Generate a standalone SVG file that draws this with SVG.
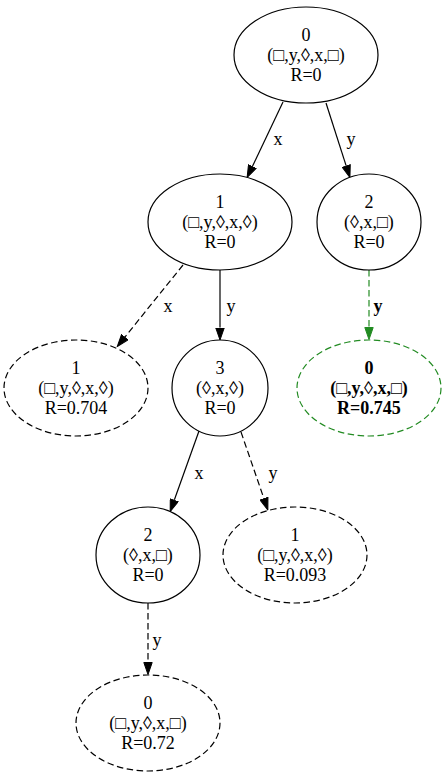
<svg xmlns="http://www.w3.org/2000/svg" width="447" height="782" viewBox="0 0 447 782">
<style>
text{font-family:"Liberation Serif","Times New Roman",serif;font-size:18px;text-anchor:middle;fill:#000}
.n{fill:#fff;stroke:#000;stroke-width:1.2}
.d{stroke-dasharray:6.5,3.5}
.e{fill:none;stroke:#000;stroke-width:1.2}
.g{stroke:#228b22}
.b{font-weight:bold}
</style>
<defs>
<marker id="a" viewBox="0 0 13 9.4" markerWidth="13" markerHeight="9.4" refX="0" refY="4.7" orient="auto" markerUnits="userSpaceOnUse"><path d="M0.5,0.5L12.5,4.7L0.5,8.9z" fill="#000" stroke="#000"/></marker>
<marker id="ag" viewBox="0 0 13 9.4" markerWidth="13" markerHeight="9.4" refX="0" refY="4.7" orient="auto" markerUnits="userSpaceOnUse"><path d="M0.5,0.5L12.5,4.7L0.5,8.9z" fill="#228b22" stroke="#228b22"/></marker>
</defs>
<rect width="447" height="782" fill="#fff"/>
<g id="edges">
<path class="e" d="M283,102L252.5,166.2" marker-end="url(#a)"/>
<text x="278" y="145">x</text>
<path class="e" d="M326,103L346.1,165.6" marker-end="url(#a)"/>
<text x="351" y="145">y</text>
<path class="e d" d="M183,265L125.1,336.8" marker-end="url(#a)"/>
<text x="168" y="312">x</text>
<path class="e" d="M220,270L220,327.5" marker-end="url(#a)"/>
<text x="231" y="312">y</text>
<path class="e d g" d="M369,270L369,327" marker-end="url(#ag)"/>
<text class="b" x="378" y="312">y</text>
<path class="e" d="M199,431L174.4,499.8" marker-end="url(#a)"/>
<text x="199" y="479">x</text>
<path class="e d" d="M241,432L263.8,498.2" marker-end="url(#a)"/>
<text x="273" y="479">y</text>
<path class="e d" d="M148,603L148,662" marker-end="url(#a)"/>
<text x="157" y="646">y</text>
</g>
<g id="n0">
<ellipse class="n" cx="306" cy="55" rx="72" ry="48"/>
<text x="306" y="41">0</text><text x="306" y="61">(□,y,◊,x,□)</text><text x="306" y="81">R=0</text>
</g>
<g id="n1">
<ellipse class="n" cx="220" cy="222" rx="72" ry="48"/>
<text x="220" y="208">1</text><text x="220" y="228">(□,y,◊,x,◊)</text><text x="220" y="248">R=0</text>
</g>
<g id="n2">
<ellipse class="n" cx="369" cy="222" rx="52" ry="48"/>
<text x="369" y="208">2</text><text x="369" y="228">(◊,x,□)</text><text x="369" y="248">R=0</text>
</g>
<g id="n1leaf">
<ellipse class="n d" cx="76" cy="388" rx="72" ry="48"/>
<text x="76" y="374">1</text><text x="76" y="394">(□,y,◊,x,◊)</text><text x="76" y="414">R=0.704</text>
</g>
<g id="n3">
<ellipse class="n" cx="220" cy="388" rx="48" ry="48"/>
<text x="220" y="374">3</text><text x="220" y="394">(◊,x,◊)</text><text x="220" y="414">R=0</text>
</g>
<g id="n0green">
<ellipse class="n d g" cx="369" cy="388" rx="72" ry="48"/>
<text class="b" x="369" y="374">0</text><text class="b" x="369" y="394">(□,y,◊,x,□)</text><text class="b" x="369" y="414">R=0.745</text>
</g>
<g id="n2low">
<ellipse class="n" cx="148" cy="555" rx="52" ry="48"/>
<text x="148" y="541">2</text><text x="148" y="561">(◊,x,□)</text><text x="148" y="581">R=0</text>
</g>
<g id="n1leaf2">
<ellipse class="n d" cx="295" cy="555" rx="72" ry="48"/>
<text x="295" y="541">1</text><text x="295" y="561">(□,y,◊,x,◊)</text><text x="295" y="581">R=0.093</text>
</g>
<g id="n0leaf">
<ellipse class="n d" cx="148" cy="723" rx="72" ry="48"/>
<text x="148" y="709">0</text><text x="148" y="729">(□,y,◊,x,□)</text><text x="148" y="749">R=0.72</text>
</g>
</svg>
